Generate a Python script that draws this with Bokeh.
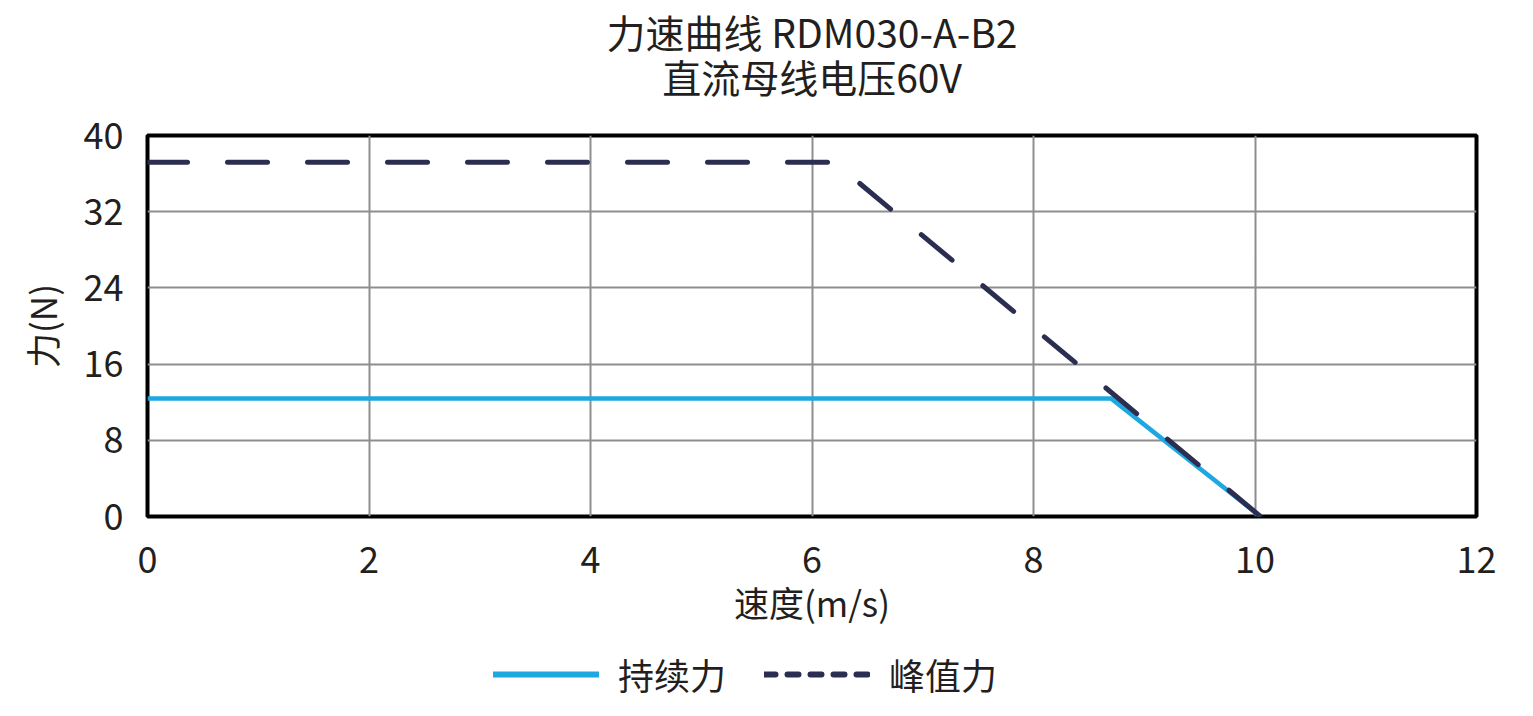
from bokeh.plotting import figure
from bokeh.layouts import column
from bokeh.models import Legend, LegendItem, Label, FixedTicker, Range1d
from bokeh.embed import file_html
from bokeh.resources import INLINE

# ---- data ----
title_line1 = "力速曲线 RDM030-A-B2"
title_line2 = "直流母线电压60V"
x_label = "速度(m/s)"
y_label = "力(N)"
x_ticks = [0, 2, 4, 6, 8, 10, 12]
y_ticks = [0, 8, 16, 24, 32, 40]
cont_name = "持续力"
peak_name = "峰值力"
speed_cont = [0, 8.7, 10.05]
force_cont = [12.4, 12.4, 0]
speed_peak = [0, 6.2, 10.05]
force_peak = [37.2, 37.2, 0]

FONT = "Noto Sans CJK SC"
TXT = "#231F20"
BLUE = "#1FA8E0"
NAVY = "#2B2E50"
NAN = float("nan")
W = 1517
BL, BR = 147, 41


def strip(height):
    f = figure(width=W, height=height, x_range=Range1d(0, 1), y_range=Range1d(0, height),
               output_backend="svg", toolbar_location=None, title=None,
               x_axis_type=None, y_axis_type=None, min_border_left=BL, min_border_right=BR,
               min_border_top=0, min_border_bottom=0,
               background_fill_color="white", border_fill_color="white")
    f.outline_line_color = None
    f.grid.visible = False
    return f


# ---- title strip ----
pt = strip(105)
for txt, yy in ((title_line1, 75), (title_line2, 30)):
    pt.add_layout(Label(x=0.5, y=yy, text=txt, text_align="center", text_baseline="middle",
                        text_font=FONT, text_font_size="39px", text_color=TXT))

# ---- main chart ----
p = figure(width=W, height=525, x_range=Range1d(0, 12), y_range=Range1d(0, 40),
           output_backend="svg", toolbar_location=None, title=None,
           min_border_left=BL, min_border_right=BR, min_border_top=30,
           min_border_bottom=114, background_fill_color="white",
           border_fill_color="white")

p.xaxis.ticker = FixedTicker(ticks=x_ticks)
p.yaxis.ticker = FixedTicker(ticks=y_ticks)
for ax in (p.xaxis, p.yaxis):
    ax.major_tick_line_color = None
    ax.minor_tick_line_color = None
    ax.axis_line_color = None
    ax.major_label_text_font = FONT
    ax.major_label_text_font_size = "36px"
    ax.major_label_text_color = TXT
    ax.axis_label_text_font = FONT
    ax.axis_label_text_font_size = "35px"
    ax.axis_label_text_font_style = "normal"
    ax.axis_label_text_color = TXT
p.xaxis.axis_label = x_label
p.yaxis.axis_label = y_label
p.xaxis.major_label_standoff = 24
p.yaxis.major_label_standoff = 18
p.xaxis.axis_label_standoff = 0
p.yaxis.axis_label_standoff = 14

p.xgrid.ticker = FixedTicker(ticks=x_ticks)
p.ygrid.ticker = FixedTicker(ticks=y_ticks)
p.grid.grid_line_color = "#8E8E8E"
p.grid.grid_line_width = 2

p.outline_line_color = "black"
p.outline_line_width = 4

p.line(speed_cont, force_cont, line_color=BLUE, line_width=4.5, line_join="round")
p.line(speed_peak, force_peak, line_color=NAVY, line_width=5, line_dash="40 40",
       line_cap="round", line_join="round")

# ---- legend strip below the chart ----
p2 = strip(70)
l_cont = p2.line([NAN, NAN], [NAN, NAN], line_color=BLUE, line_width=6, line_cap="round")
l_peak = p2.line([NAN, NAN], [NAN, NAN], line_color=NAVY, line_width=6, line_dash="11 12",
                 line_cap="round")

legend = Legend(items=[LegendItem(label=cont_name, renderers=[l_cont]),
                       LegendItem(label=peak_name, renderers=[l_peak])],
                orientation="horizontal", location=(346, 0),
                glyph_width=106, glyph_height=40, label_standoff=19, spacing=38,
                label_text_font=FONT, label_text_font_size="36px", label_text_color=TXT,
                border_line_color=None, background_fill_alpha=0, padding=5, margin=0)
p2.add_layout(legend, "center")

layout = column(pt, p, p2, spacing=0)
open("out.html", "w").write(file_html(layout, INLINE))
